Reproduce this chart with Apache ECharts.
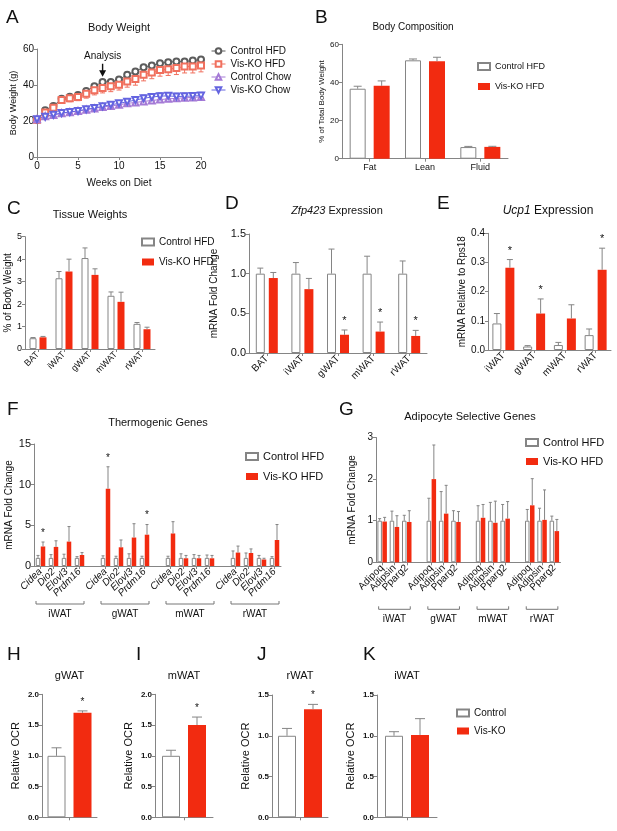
<!DOCTYPE html>
<html>
<head>
<meta charset="utf-8">
<script src="https://cdn.jsdelivr.net/npm/echarts@6/dist/echarts.min.js"></script>
<style>
body { margin: 0; background: #fff; }
.layer { position: absolute; left: 0; top: 0; width: 617px; height: 831px; }
</style>
</head>
<body>
<script>
var INK = '#111';
var EDGE = '#858585';
var RED = '#f22b10';
var FONT = '"Liberation Sans", Arial, sans-serif';

// ---- A: body weight curves
var weeks = [0,1,2,3,4,5,6,7,8,9,10,11,12,13,14,15,16,17,18,19,20];
var ctrlHfd    = [20.7,26.0,28.3,32.4,33.5,34.4,36.6,39.3,41.7,41.7,43.0,45.7,47.5,49.9,50.8,52.1,52.7,53.0,53.0,53.6,54.1];
var ctrlHfdErr = [0.6,1.0,1.0,1.0,1.0,1.0,1.0,1.2,1.2,1.2,1.2,1.3,1.3,1.3,1.3,1.3,1.3,1.3,1.3,1.2,1.2];
var koHfd      = [20.7,24.7,27.4,31.6,32.7,33.3,35.1,37.1,38.4,39.3,40.2,42.0,43.3,45.7,47.0,48.4,48.8,49.4,50.3,50.3,50.8];
var koHfdErr   = [0.8,1.5,1.5,1.6,2.0,2.0,2.4,2.6,2.8,3.0,3.0,3.2,3.4,3.4,3.5,3.5,3.5,3.6,3.6,3.6,3.5];
var ctrlChow    = [21.0,22.6,23.4,24.3,24.9,25.5,26.3,27.0,27.8,28.3,29.0,29.8,30.3,30.9,31.4,31.9,32.3,32.6,32.9,33.1,33.4];
var ctrlChowErr = [0.8,1,1,1,1,1,1,1,1.1,1.2,1.2,1.3,1.3,1.4,1.4,1.4,1.4,1.4,1.4,1.4,1.4];
var koChow    = [21.0,22.3,23.5,24.4,25.0,25.6,26.5,27.2,28.2,29.0,29.8,30.7,31.6,32.6,33.3,33.8,34.0,33.6,33.7,33.9,34.1];
var koChowErr = [0.8,1,1,1,1,1,1,1,1.2,1.3,1.5,1.6,1.6,1.8,1.8,1.8,1.8,1.8,1.8,1.8,1.8];

// ---- B: body composition
var compCats = ['Fat', 'Lean', 'Fluid'];
var compCtrl = [36.7, 51.6, 6.1];
var compCtrlErr = [1.3, 0.7, 0.35];
var compKo = [38.2, 51.1, 6.2];
var compKoErr = [2.6, 2.1, 0.3];

// ---- C: tissue weights
var depots = ['BAT', 'iWAT', 'gWAT', 'mWAT', 'rWAT'];
var tisCtrl = [0.48, 3.15, 4.05, 2.37, 1.12];
var tisCtrlErr = [0.03, 0.3, 0.45, 0.17, 0.06];
var tisKo = [0.52, 3.45, 3.3, 2.1, 0.88];
var tisKoErr = [0.04, 0.55, 0.27, 0.43, 0.09];

// ---- D: Zfp423
var zfpCtrl = [1.0, 1.0, 1.0, 1.0, 1.0];
var zfpCtrlErr = [0.07, 0.14, 0.31, 0.22, 0.16];
var zfpKo = [0.945, 0.805, 0.23, 0.27, 0.215];
var zfpKoErr = [0.07, 0.135, 0.06, 0.12, 0.07];
var zfpStar = [0, 0, 1, 1, 1];

// ---- E: Ucp1
var wat = ['iWAT', 'gWAT', 'mWAT', 'rWAT'];
var ucpCtrl = [0.091, 0.012, 0.017, 0.051];
var ucpCtrlErr = [0.034, 0.003, 0.009, 0.021];
var ucpKo = [0.282, 0.125, 0.108, 0.275];
var ucpKoErr = [0.028, 0.05, 0.047, 0.074];
var ucpStar = [1, 1, 0, 1];

// ---- F: thermogenic genes (tissue-major)
var thermoGenes = ['Cidea', 'Dio2', 'Elovl3', 'Prdm16'];
var thermoCtrl = [1,1,1,1, 1,1,1,1, 1,1,1,1, 1,1,1,1];
var thermoCtrlErr = [0.3,0.4,0.45,0.15, 0.25,0.2,0.5,0.2, 0.2,0.5,0.4,0.35, 0.85,0.6,0.3,0.15];
var thermoKo = [2.4,2.35,3.0,1.35, 9.5,2.3,3.5,3.85, 4.0,0.95,0.95,0.95, 1.65,1.6,0.8,3.2];
var thermoKoErr = [0.55,0.75,1.85,0.3, 2.7,0.9,1.7,1.25, 1.45,0.35,0.35,0.35, 0.8,0.5,0.15,1.9];
var thermoStar = [1,0,0,0, 1,0,0,1, 0,0,0,0, 0,0,0,0];

// ---- G: adipocyte genes (tissue-major)
var adipoGenes = ['Adipoq', 'Adipsin', 'Pparg2'];
var adipoCtrl = [1,1,1, 1,1,1, 1,1,1, 1,1,1];
var adipoCtrlErr = [0.05,0.23,0.13, 0.54,0.7,0.24, 0.36,0.44,0.39, 0.27,0.3,0.11];
var adipoKo = [0.98,0.85,0.97, 2.0,1.17,0.97, 1.07,0.95,1.05, 1.37,1.02,0.75];
var adipoKoErr = [0.1,0.27,0.27, 0.82,0.68,0.25, 0.32,0.52,0.41, 0.64,0.72,0.28];

// ---- H-K: OCR
var ocrTissues = ['gWAT', 'mWAT', 'rWAT', 'iWAT'];
var ocrCtrl = [1.0, 1.0, 1.0, 1.0];
var ocrCtrlErr = [0.13, 0.09, 0.09, 0.05];
var ocrKo = [1.70, 1.50, 1.325, 1.01];
var ocrKoErr = [0.03, 0.13, 0.06, 0.2];
var ocrStar = [1, 1, 1, 0];

function mount(opt) {
  var d = document.createElement('div');
  d.className = 'layer';
  document.body.appendChild(d);
  var c = echarts.init(d);
  c.setOption(opt);
}

function txt(t, x, y, size, align, rich) {
  var s = { text: t, fill: INK, fontSize: size, fontFamily: FONT, align: align || 'left', verticalAlign: 'top' };
  if (rich) s.rich = rich;
  return { type: 'text', x: x, y: y, silent: true, style: s };
}

function yAx(max, step, dec, name, gap, fs, nfs, bold) {
  return {
    type: 'value', min: 0, max: max, interval: step,
    axisLine: { show: true, lineStyle: { color: EDGE, width: 1 } },
    axisTick: { show: true, length: 3, lineStyle: { color: EDGE } },
    splitLine: { show: false },
    axisLabel: { color: INK, fontSize: fs, fontFamily: FONT, fontWeight: bold ? 'bold' : 'normal', margin: 3,
      formatter: function (v) { return v.toFixed(dec); } },
    name: name, nameLocation: 'middle', nameGap: gap,
    nameTextStyle: { color: INK, fontSize: nfs, fontFamily: FONT }
  };
}

function xCat(cats, fs, rot, italic, show) {
  return {
    type: 'category', data: cats,
    axisLine: { lineStyle: { color: EDGE } },
    axisTick: { show: true, alignWithLabel: true, length: 3, lineStyle: { color: EDGE },
      interval: function (i, v) { return String(v).indexOf('gap') !== 0; } },
    axisLabel: { show: show, interval: 0, rotate: rot, color: INK, fontSize: fs, fontFamily: FONT,
      fontStyle: italic ? 'italic' : 'normal', margin: 4,
      formatter: function (v) { return String(v).indexOf('gap') === 0 ? '' : String(v).split('|').pop(); } }
  };
}

// upper error bar (and star) next to each bar of a pair
function barErr(off, cap, starSize) {
  return function (params, api) {
    var i = api.value(0), v = api.value(1), e = api.value(2), side = api.value(3), star = api.value(4);
    var b = api.coord([i, v]), t = api.coord([i, v + e]);
    var x = b[0] + side * off;
    var kids = [
      { type: 'line', shape: { x1: x, y1: b[1], x2: x, y2: t[1] }, style: { stroke: EDGE, lineWidth: 1 } },
      { type: 'line', shape: { x1: x - cap, y1: t[1], x2: x + cap, y2: t[1] }, style: { stroke: EDGE, lineWidth: 1 } }
    ];
    if (star) {
      kids.push({ type: 'text', x: x, y: t[1] - 9, style: { text: '*', align: 'center', verticalAlign: 'middle',
        fill: INK, fontSize: starSize || 11, fontFamily: FONT } });
    }
    return { type: 'group', children: kids };
  };
}

function bracketSeries(groups, labels, drop, ext, fs) {
  return {
    type: 'custom', clip: false, silent: true, z: 5,
    renderItem: function (params, api) {
      var a = api.coord([api.value(0), 0]), b = api.coord([api.value(1), 0]);
      var y = a[1] + drop, x1 = a[0] - ext, x2 = b[0] + ext;
      return { type: 'group', children: [
        { type: 'polyline', shape: { points: [[x1, y - 3], [x1, y], [x2, y], [x2, y - 3]] },
          style: { stroke: '#777', fill: null, lineWidth: 1 } },
        { type: 'text', x: (x1 + x2) / 2, y: y + 5, style: { text: labels[params.dataIndex], align: 'center',
          verticalAlign: 'top', fill: INK, fontSize: fs, fontFamily: FONT } }
      ] };
    },
    data: groups
  };
}

function barPanel(p) {
  var off = (p.barW + p.gap) / 2;
  var errData = [];
  p.ctrl.forEach(function (v, i) {
    if (v === '-') return;
    errData.push([i, v, p.ctrlErr[i], -1, 0]);
    errData.push([i, p.ko[i], p.koErr[i], 1, p.star ? p.star[i] : 0]);
  });
  var series = [
    { type: 'bar', name: p.names[0], data: p.ctrl, barWidth: p.barW, barGap: (p.gap / p.barW * 100) + '%',
      itemStyle: { color: '#fff', borderColor: EDGE, borderWidth: 1 }, silent: true },
    { type: 'bar', name: p.names[1], data: p.ko, barWidth: p.barW, itemStyle: { color: RED }, silent: true },
    { type: 'custom', renderItem: barErr(off, p.cap, p.starSize), data: errData, clip: false, z: 5, silent: true }
  ];
  if (p.brackets) series.push(p.brackets);
  var opt = {
    animation: false,
    textStyle: { fontFamily: FONT },
    graphic: p.graphic,
    grid: p.grid,
    xAxis: xCat(p.cats, p.xfs, p.rot, p.italic, p.showX !== false),
    yAxis: yAx(p.yMax, p.yStep, p.dec, p.yName, p.nameGap, p.yfs, p.nfs, p.bold),
    series: series
  };
  if (p.legend) {
    opt.legend = { data: p.names, orient: 'vertical', left: p.legend[0], top: p.legend[1], padding: 0,
      itemGap: p.legend[2], itemWidth: 12, itemHeight: 7, icon: 'rect', selectedMode: false,
      textStyle: { fontSize: p.legend[3], color: INK, fontFamily: FONT } };
  }
  return opt;
}

// slots with gaps between tissue groups
function slotted(vals, n, gapVal) {
  var out = [];
  for (var t = 0; t < wat.length; t++) {
    if (t > 0) out.push(gapVal === 'gap' ? 'gap' + t : gapVal);
    for (var g = 0; g < n; g++) out.push(vals[t * n + g]);
  }
  return out;
}
function slotCats(genes) {
  var names = [];
  wat.forEach(function (t) { genes.forEach(function (g) { names.push(t + '|' + g); }); });
  return slotted(names, genes.length, 'gap');
}
function groupSpans(n) {
  return wat.map(function (t, i) { var s = i * (n + 1); return [s, s + n - 1]; });
}

// ---------- A
function lineErr(xs, ys, es, color) {
  return {
    type: 'custom', silent: true, z: 2,
    renderItem: function (params, api) {
      var x = api.value(0), y = api.value(1), e = api.value(2);
      var lo = api.coord([x, y - e]), hi = api.coord([x, y + e]);
      return { type: 'group', children: [
        { type: 'line', shape: { x1: lo[0], y1: lo[1], x2: hi[0], y2: hi[1] }, style: { stroke: color, lineWidth: 1 } },
        { type: 'line', shape: { x1: hi[0] - 2.5, y1: hi[1], x2: hi[0] + 2.5, y2: hi[1] }, style: { stroke: color, lineWidth: 1 } },
        { type: 'line', shape: { x1: lo[0] - 2.5, y1: lo[1], x2: lo[0] + 2.5, y2: lo[1] }, style: { stroke: color, lineWidth: 1 } }
      ] };
    },
    data: xs.map(function (x, i) { return [x, ys[i], es[i]]; })
  };
}
function curve(name, ys, color, symbol, rot) {
  return {
    type: 'line', name: name, data: weeks.map(function (w, i) { return [w, ys[i]]; }),
    symbol: symbol, symbolSize: 6, symbolRotate: rot || 0, showAllSymbol: true, z: 3, silent: true,
    lineStyle: { color: color, width: 1 }, itemStyle: { color: color, borderWidth: 1 }
  };
}
var colCtrlHfd = '#5c5c5c', colKoHfd = '#f0705e', colCtrlChow = '#a57ad6', colKoChow = '#6464e0';
var hfdLine = curve('Control HFD', ctrlHfd, colCtrlHfd, 'emptyCircle');
hfdLine.markPoint = {
  silent: true,
  symbol: 'path://M4,0 L6,0 L6,10 L10,10 L5,20 L0,10 L4,10 Z', symbolSize: [7, 13], symbolOffset: [0, '-50%'],
  itemStyle: { color: '#111' },
  label: { show: true, position: 'top', distance: 2, formatter: 'Analysis', color: INK, fontSize: 10, fontFamily: FONT },
  data: [{ coord: [8, 44.6] }]
};
mount({
  animation: false,
  textStyle: { fontFamily: FONT },
  graphic: [txt('A', 6, 8, 19), txt('Body Weight', 119, 22, 11, 'center')],
  legend: { data: ['Control HFD', 'Vis-KO HFD', 'Control Chow', 'Vis-KO Chow'], orient: 'vertical', left: 211, top: 46,
    padding: 0, itemGap: 3, itemWidth: 14, itemHeight: 7, selectedMode: false,
    itemStyle: { borderWidth: 1 }, lineStyle: { width: 1 },
    textStyle: { fontSize: 10, color: INK, fontFamily: FONT } },
  grid: { left: 37, top: 49, width: 164, height: 108 },
  xAxis: {
    type: 'value', min: 0, max: 20, interval: 5,
    axisLine: { lineStyle: { color: EDGE } }, axisTick: { show: true, length: 3, lineStyle: { color: EDGE } },
    splitLine: { show: false },
    axisLabel: { color: INK, fontSize: 10, fontFamily: FONT, margin: 4 },
    name: 'Weeks on Diet', nameLocation: 'middle', nameGap: 21, nameTextStyle: { color: INK, fontSize: 10, fontFamily: FONT }
  },
  yAxis: yAx(60, 20, 0, 'Body Weight (g)', 19, 10, 9, false),
  series: [
    lineErr(weeks, koChow, koChowErr, colKoChow),
    lineErr(weeks, ctrlChow, ctrlChowErr, colCtrlChow),
    lineErr(weeks, koHfd, koHfdErr, colKoHfd),
    lineErr(weeks, ctrlHfd, ctrlHfdErr, colCtrlHfd),
    hfdLine,
    curve('Vis-KO HFD', koHfd, colKoHfd, 'emptyRect'),
    curve('Control Chow', ctrlChow, colCtrlChow, 'emptyTriangle'),
    curve('Vis-KO Chow', koChow, colKoChow, 'emptyTriangle', 180)
  ]
});

// ---------- B
mount(barPanel({
  graphic: [txt('B', 315, 8, 19), txt('Body Composition', 413, 22, 10, 'center')],
  grid: { left: 342, top: 44.3, width: 166, height: 114.4 },
  cats: compCats, ctrl: compCtrl, ctrlErr: compCtrlErr, ko: compKo, koErr: compKoErr,
  names: ['Control HFD', 'Vis-KO HFD'], barW: 16, gap: 8, cap: 4, xfs: 9, rot: 0,
  yMax: 60, yStep: 20, dec: 0, yName: '% of Total Body Weight', nameGap: 12, yfs: 8, nfs: 8,
  legend: [477, 62, 11, 9]
}));

// ---------- C
mount(barPanel({
  graphic: [txt('C', 7, 199, 19), txt('Tissue Weights', 90, 209, 11, 'center')],
  grid: { left: 25, top: 236.7, width: 130, height: 112.3 },
  cats: depots, ctrl: tisCtrl, ctrlErr: tisCtrlErr, ko: tisKo, koErr: tisKoErr,
  names: ['Control HFD', 'Vis-KO HFD'], barW: 7, gap: 3, cap: 2.5, xfs: 9, rot: 45,
  yMax: 5, yStep: 1, dec: 0, yName: '% of Body Weight', nameGap: 12, yfs: 9, nfs: 10,
  legend: [141, 237, 10, 10]
}));

// ---------- D
mount(barPanel({
  graphic: [txt('D', 225, 194, 19),
    txt('{i|Zfp423} Expression', 337, 205, 11, 'center', { i: { fontStyle: 'italic', fontSize: 11, fontFamily: FONT } })],
  grid: { left: 249, top: 234, width: 178, height: 119 },
  cats: depots, ctrl: zfpCtrl, ctrlErr: zfpCtrlErr, ko: zfpKo, koErr: zfpKoErr, star: zfpStar,
  names: ['Control HFD', 'Vis-KO HFD'], barW: 9, gap: 4, cap: 3, xfs: 10, rot: 45,
  yMax: 1.5, yStep: 0.5, dec: 1, yName: 'mRNA Fold Change', nameGap: 30, yfs: 11, nfs: 10
}));

// ---------- E
mount(barPanel({
  graphic: [txt('E', 437, 194, 19),
    txt('{i|Ucp1} Expression', 548, 205, 12, 'center', { i: { fontStyle: 'italic', fontSize: 12, fontFamily: FONT } })],
  grid: { left: 488, top: 233.3, width: 123, height: 116.7 },
  cats: wat, ctrl: ucpCtrl, ctrlErr: ucpCtrlErr, ko: ucpKo, koErr: ucpKoErr, star: ucpStar,
  names: ['Control HFD', 'Vis-KO HFD'], barW: 9, gap: 4, cap: 3, xfs: 10, rot: 45,
  yMax: 0.4, yStep: 0.1, dec: 1, yName: 'mRNA Relative to Rps18', nameGap: 18, yfs: 10, nfs: 10
}));

// ---------- F
mount(barPanel({
  graphic: [txt('F', 7, 400, 19), txt('Thermogenic Genes', 158, 417, 11, 'center')],
  grid: { left: 34, top: 444, width: 247, height: 122 },
  cats: slotCats(thermoGenes), ctrl: slotted(thermoCtrl, 4, '-'), ctrlErr: slotted(thermoCtrlErr, 4, '-'),
  ko: slotted(thermoKo, 4, '-'), koErr: slotted(thermoKoErr, 4, '-'), star: slotted(thermoStar, 4, 0),
  names: ['Control HFD', 'Vis-KO HFD'], barW: 4.5, gap: 0.5, cap: 1.5, starSize: 10, xfs: 10, rot: 45, italic: true,
  yMax: 15, yStep: 5, dec: 0, yName: 'mRNA Fold Change', nameGap: 20, yfs: 11, nfs: 10,
  legend: [245, 451, 9, 11],
  brackets: bracketSeries(groupSpans(4), wat, 38, 4.5, 10)
}));

// ---------- G
mount(barPanel({
  graphic: [txt('G', 339, 400, 19), txt('Adipocyte Selective Genes', 470, 411, 11, 'center')],
  grid: { left: 376, top: 437.5, width: 184.5, height: 124.8 },
  cats: slotCats(adipoGenes), ctrl: slotted(adipoCtrl, 3, '-'), ctrlErr: slotted(adipoCtrlErr, 3, '-'),
  ko: slotted(adipoKo, 3, '-'), koErr: slotted(adipoKoErr, 3, '-'),
  names: ['Control HFD', 'Vis-KO HFD'], barW: 4.5, gap: 0.5, cap: 1.5, xfs: 10, rot: 45,
  yMax: 3, yStep: 1, dec: 0, yName: 'mRNA Fold Change', nameGap: 19, yfs: 10, nfs: 10,
  legend: [525, 437, 8, 11],
  brackets: bracketSeries(groupSpans(3), wat, 47, 3.5, 10)
}));

// ---------- H-K
var ocrBox = [
  { L: 'H', lx: 7, ax: 42, w: 55, max: 2.0, top: 694.3, h: 123 },
  { L: 'I', lx: 136, ax: 155, w: 58, max: 2.0, top: 694.3, h: 123 },
  { L: 'J', lx: 257, ax: 272, w: 56, max: 1.5, top: 695, h: 122.3 },
  { L: 'K', lx: 363, ax: 377, w: 60, max: 1.5, top: 695, h: 122.3 }
];
ocrBox.forEach(function (b, k) {
  mount(barPanel({
    graphic: [txt(b.L, b.lx, 645, 19), txt(ocrTissues[k], b.ax + b.w / 2, 670, 11, 'center')],
    grid: { left: b.ax, top: b.top, width: b.w, height: b.h },
    cats: [ocrTissues[k]], ctrl: [ocrCtrl[k]], ctrlErr: [ocrCtrlErr[k]], ko: [ocrKo[k]], koErr: [ocrKoErr[k]],
    star: [ocrStar[k]], showX: false,
    names: ['Control', 'Vis-KO'], barW: 18, gap: 8, cap: 5, xfs: 9, rot: 0, starSize: 10,
    yMax: b.max, yStep: 0.5, dec: 1, yName: 'Relative OCR', nameGap: 21, yfs: 8, nfs: 11, bold: true,
    legend: k === 3 ? [456, 708, 8, 10] : null
  }));
});
</script>
</body>
</html>
